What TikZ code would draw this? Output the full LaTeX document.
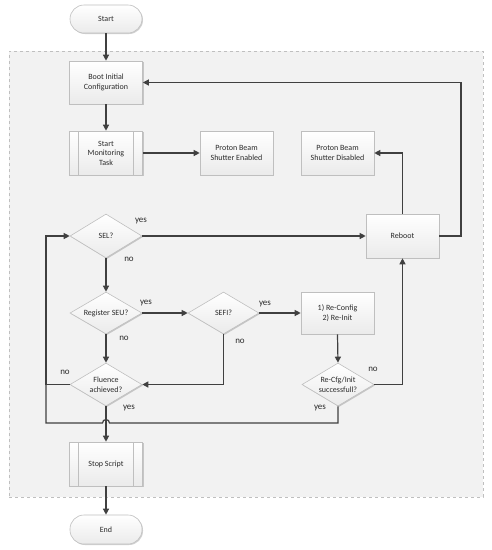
\documentclass[tikz,border=0pt]{standalone}
\usepackage{fontspec}
\setmainfont{Carlito}
\usetikzlibrary{shapes.geometric,arrows.meta,calc,shadows}
\definecolor{linec}{HTML}{404040}
\definecolor{bordc}{HTML}{BFBFBF}
\definecolor{bgc}{HTML}{F2F2F2}
\definecolor{txtc}{HTML}{2B2B2B}
\begin{document}
\begin{tikzpicture}[x=1pt,y=1pt,
  every node/.style={font=\fontsize{8}{9.5}\selectfont, text=txtc},
  basebox/.style={draw=bordc, line width=0.6pt, top color=white, bottom color=black!8,
     drop shadow={shadow xshift=1pt, shadow yshift=-1pt, opacity=0.18, fill=black}},
  procbox/.style={basebox, rectangle, minimum width=73pt, minimum height=43pt, align=center, inner sep=1pt},
  predef/.style={procbox, path picture={
     \draw[bordc, line width=0.6pt] ([xshift=9pt]path picture bounding box.north west) -- ([xshift=9pt]path picture bounding box.south west);
     \draw[bordc, line width=0.6pt] ([xshift=-9pt]path picture bounding box.north east) -- ([xshift=-9pt]path picture bounding box.south east);}},
  termbox/.style={basebox, rectangle, rounded corners=14pt, minimum width=72pt, minimum height=28pt},
  decision/.style={basebox, diamond, aspect=1.64, minimum width=72pt, minimum height=44pt, inner sep=0pt, align=center},
  lbl/.style={font=\fontsize{9}{10}\selectfont, text=txtc, inner sep=0pt},
  conn/.style={draw=linec, line width=1.2pt, line join=miter},
  arr/.style={conn, -{Triangle[length=6pt,width=6pt]}}
]
\useasboundingbox (0,0) rectangle (491,-550);
\node[draw=bordc, dashed, line width=0.8pt, fill=bgc, minimum width=474pt, minimum height=446pt, inner sep=0pt] (container) at (246,-274) {};

\node[termbox] (start) at (106,-19) {Start};
\node[procbox] (boot) at (106,-82.5) {Boot Initial\\Configuration};
\node[predef, minimum height=44pt] (mon) at (106,-153) {Start\\Monitoring\\Task};
\node[procbox, minimum height=44pt] (enab) at (236.5,-153) {Proton Beam\\Shutter Enabled};
\node[procbox, minimum height=44pt] (disab) at (337.5,-153) {Proton Beam\\Shutter Disabled};
\node[decision] (sel) at (106,-236) {SEL?};
\node[procbox, minimum height=44pt] (reboot) at (402.5,-236) {Reboot};
\node[decision, minimum height=42pt] (reg) at (106,-313) {Register SEU?};
\node[decision, minimum width=71pt, minimum height=42pt] (sefi) at (223.5,-313) {SEFI?};
\node[procbox, minimum height=42pt] (recfg) at (337.5,-313) {1) Re-Config\\2) Re-Init};
\node[decision, minimum height=43pt] (flu) at (106,-384.5) {Fluence\\achieved?};
\node[decision, minimum height=43pt] (succ) at (338,-384.5) {Re-Cfg/Init\\successfull?};
\node[predef, minimum height=44pt] (stop) at (106,-464) {Stop Script};
\node[termbox, minimum height=29pt] (end) at (106,-529.5) {End};

\coordinate (rb) at (461,-236);
\coordinate (lx) at (46,-236);
\coordinate (lb) at (46,-423);

\draw[arr] (start) -- (boot);
\draw[arr] (boot) -- (mon);
\draw[arr] (mon) -- (enab);
\draw[arr] (reboot.north) |- (disab.east);
\draw[arr] (reboot.east) -- (rb) |- (boot.east);
\draw[arr] (sel.east) -- (reboot.west);
\draw[arr] (sel.south) -- (reg.north);
\draw[arr] (reg.east) -- (sefi.west);
\draw[arr] (sefi.east) -- (recfg.west);
\draw[arr] (reg.south) -- (flu.north);
\draw[arr] (sefi.south) |- (flu.east);
\draw[arr] (recfg.south) -- (succ.north);
\draw[arr] (succ.east) -| (reboot.south);
\draw[arr] (flu.west) -| (lx) -- (sel.west);
\draw[conn] (succ.south) -- (succ.south |- lb) -- ($(flu.south |- lb)+(3.5,0)$) arc[start angle=0, end angle=180, radius=3.5] -- (lb) -- (lb |- flu.west);
\draw[arr] (flu.south) -- (stop.north);
\draw[arr] (stop.south) -- (end.north);

\node[lbl] (y1) at (141,-221) {yes};
\node[lbl] (n1) at (129,-259) {no};
\node[lbl] (y2) at (146,-303) {yes};
\node[lbl] (y3) at (265,-304) {yes};
\node[lbl] (n2) at (124,-338) {no};
\node[lbl] (n3) at (240,-341) {no};
\node[lbl] (n4) at (65,-372) {no};
\node[lbl] (y4) at (129,-408) {yes};
\node[lbl] (n5) at (373,-369) {no};
\node[lbl] (y5) at (320,-408) {yes};
\end{tikzpicture}
\end{document}
